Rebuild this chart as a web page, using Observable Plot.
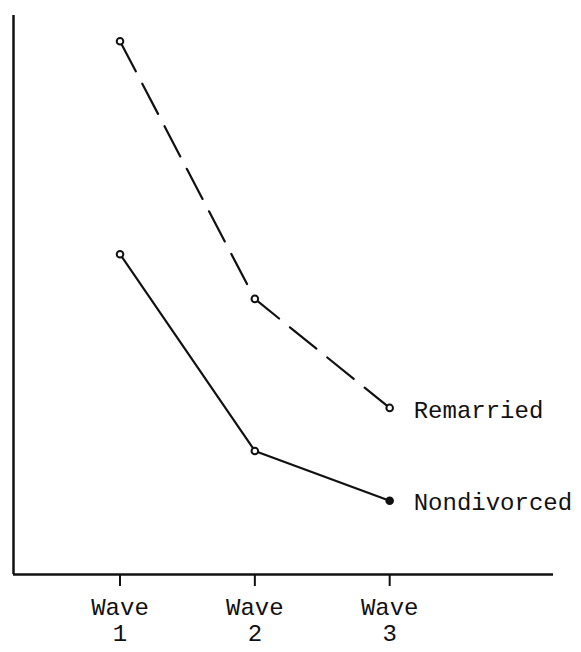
<!DOCTYPE html>
<html><head><meta charset="utf-8">
<script src="https://cdn.jsdelivr.net/npm/d3@7"></script>
<script src="https://cdn.jsdelivr.net/npm/@observablehq/plot@0.6"></script>
<style>body{margin:0;background:#fff;} svg{overflow:visible}</style>
</head><body><div id="chart"></div>
<script>
const waves = [1, 2, 3];
const waveLabels = ["Wave\n1", "Wave\n2", "Wave\n3"];
const remarried = [95.4, 49.3, 29.8];
const nondivorced = [57.3, 22.1, 13.2];
const nondivorcedFilled = [false, false, true];
const seriesNames = ["Remarried", "Nondivorced"];

const remData = waves.map((w, i) => ({wave: w, value: remarried[i], filled: false}));
const nonData = waves.map((w, i) => ({wave: w, value: nondivorced[i], filled: nondivorcedFilled[i]}));
const labels = [
  {wave: 3, value: remarried[2], name: seriesNames[0]},
  {wave: 3, value: nondivorced[2], name: seriesNames[1]}
];

const chart = Plot.plot({
  width: 581, height: 652,
  marginLeft: 13, marginRight: 28, marginTop: 15, marginBottom: 78,
  style: {fontFamily: "'Liberation Mono', 'DejaVu Sans Mono', monospace", fontSize: "24px", color: "#111", background: "#fff"},
  x: {domain: [0.21, 4.215], axis: null},
  y: {domain: [0, 100], axis: null},
  marks: [
    Plot.ruleY([0], {stroke: "#111", strokeWidth: 2.5}),
    Plot.ruleX([0.21], {stroke: "#111", strokeWidth: 2.5}),
    Plot.axisX(waves, {label: null, tickSize: 12, tickPadding: 9, tickFormat: d => waveLabels[waves.indexOf(d)], stroke: "#111", strokeWidth: 2, lineHeight: 1.12, fill: "#111", fontSize: 24}),
    Plot.line(remData, {x: "wave", y: "value", stroke: "#111", strokeWidth: 2.2, strokeDasharray: "34,14"}),
    Plot.line(nonData, {x: "wave", y: "value", stroke: "#111", strokeWidth: 2.2}),
    Plot.dot(remData.concat(nonData), {x: "wave", y: "value", r: 3.3, stroke: "#111", strokeWidth: 2, fill: d => d.filled ? "#111" : "#fff"}),
    Plot.text(labels, {x: "wave", y: "value", text: "name", dx: 24, dy: 2, textAnchor: "start", fill: "#111", fontSize: 24})
  ]
});
document.getElementById("chart").appendChild(chart);
</script>
</body></html>
